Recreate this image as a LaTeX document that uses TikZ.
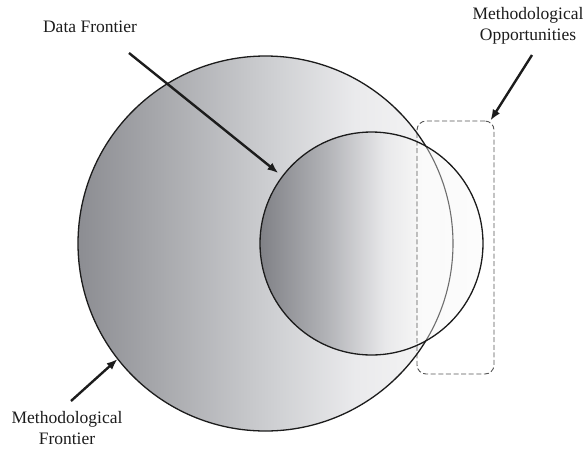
\documentclass[tikz,border=0pt]{standalone}
\usepackage{fontspec}
\setmainfont{Liberation Serif}
\usetikzlibrary{arrows.meta,positioning}
\definecolor{ink}{HTML}{1C1C1C}
\definecolor{rim}{HTML}{555555}
\definecolor{seam}{HTML}{6E6E6E}
\definecolor{gA}{RGB}{140,141,146}
\definecolor{gB}{RGB}{165,166,170}
\definecolor{gC}{RGB}{204,205,208}
\definecolor{gD}{RGB}{234,234,236}
\definecolor{gE}{RGB}{247,247,247}
\definecolor{sA}{RGB}{128,129,134}
\definecolor{sB}{RGB}{178,179,183}
\definecolor{sC}{RGB}{232,232,234}
\definecolor{sD}{RGB}{245,245,245}
\definecolor{sE}{RGB}{251,251,251}
\pgfdeclarehorizontalshading{bigwash}{100bp}{color(0bp)=(gA);color(25bp)=(gA);color(35bp)=(gB);color(50bp)=(gC);color(62bp)=(gD);color(75bp)=(gE);color(100bp)=(gE)}
\pgfdeclarehorizontalshading{smallwash}{100bp}{color(0bp)=(sA);color(25bp)=(sA);color(40bp)=(sB);color(53bp)=(sC);color(60bp)=(sD);color(75bp)=(sE);color(100bp)=(sE)}
\tikzset{frontier/.style={circle,inner sep=0pt}, rimline/.style={draw=ink,line width=1.3pt}, lbl/.style={align=center,font=\fontsize{17.5}{21}\selectfont,text=ink},arr/.style={-{Latex[length=11pt,width=8.5pt]},line width=2.4pt,draw=ink},gapbox/.style={draw=rim,dash pattern=on 5pt off 2.6pt,rounded corners=9pt,line width=0.9pt,fill=white,fill opacity=0.45,minimum width=77pt,minimum height=253pt}}
\begin{document}
\begin{tikzpicture}[x=1pt,y=-1pt]
\useasboundingbox (0,0) rectangle (584,448);
\node[frontier,shading=bigwash,minimum size=375pt](mf) at (265.5,243.5){};
\node[frontier,shading=smallwash,minimum size=223pt](df) at (371.5,243.5){};
\node[gapbox](mo) at (455.5,247.5){};
\begin{scope}\clip (df.center) circle (111pt);\draw[seam,line width=1.1pt](mf.center) circle (187.5pt);\end{scope}
\begin{scope}[even odd rule]\clip (0,0) rectangle (584,448) (df.center) circle (111pt);\draw[rimline](mf.center) circle (187.5pt);\end{scope}
\draw[rimline](df.center) circle (111.5pt);
\node[lbl](dfl) at (90,27){Data Frontier};\node[lbl](mol) at (528,26){Methodological\\Opportunities};
\node[lbl](mfl) at (67,428){Methodological\\Frontier};
\coordinate (dfs) at (129,53);\coordinate (mos) at (532,55);\coordinate (mfs) at (71,401);
\draw[arr,shorten >=5pt](dfs)--(df.143);\draw[arr](mos)--([xshift=-4pt]mo.north east);
\draw[arr](mfs)--(mf.218);
\end{tikzpicture}
\end{document}
